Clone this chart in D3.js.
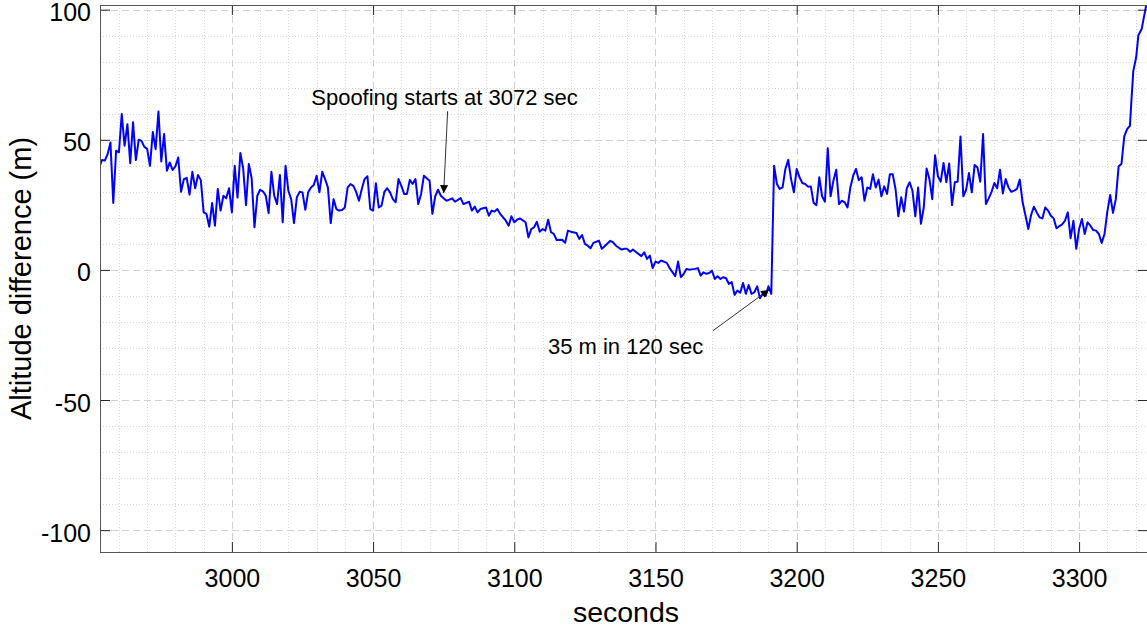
<!DOCTYPE html>
<html>
<head>
<meta charset="utf-8">
<script src="https://cdn.jsdelivr.net/npm/d3@7"></script>
<style>
  body { margin: 0; background: #fff; }
  svg text { font-family: "Liberation Sans", Arial, Helvetica, sans-serif; fill: #000; }
</style>
</head>
<body>
<div class="altitude-chart"></div>
<script>
// time stamps (s) and altitude difference (m)
const seconds = [2953,2954,2955,2956,2957,2958,2959,2960,2961,2962,2963,2964,2965,2966,2967,2968,2969,2970,2971,2972,2973,2974,2975,2976,2977,2978,2979,2980,2981,2982,2983,2984,2985,2986,2987,2988,2989,2990,2991,2992,2993,2994,2995,2996,2997,2998,2999,
  3000,3001,3002,3003,3004,3005,3006,3007,3008,3009,3010,3011,3012,3013,3014,3015,3016,3017,3018,3019,3020,3021,3022,3023,3024,3025,3026,3027,3028,3029,3030,3031,3032,3033,3034,3035,3036,3037,3038,3039,3040,3041,3042,3043,3044,3045,3046,3047,3048,3049,
  3050,3051,3052,3053,3054,3055,3056,3057,3058,3059,3060,3061,3062,3063,3064,3065,3066,3067,3068,3069,3070,3071,3072,3073,3074,3075,3076,3077,3078,3079,3081,3082,3084,3085,3086,3087,3088,3090,3091,3092,3093,3094,3095,3097,3098,3099,
  3100,3101,3102,3104,3105,3106,3107,3108,3109,3110,3111,3112,3113,3114,3115,3117,3118,3119,3120,3122,3123,3124,3125,3126,3127,3128,3130,3131,3132,3134,3135,3136,3138,3139,3140,3141,3142,3143,3145,3146,3147,3148,3149,
  3150,3151,3152,3154,3155,3157,3158,3159,3160,3161,3162,3164,3165,3166,3167,3168,3169,3170,3171,3172,3173,3174,3175,3176,3177,3178,3179,3180,3181,3182,3183,3184,3185,3186,3187,3188,3189,3190,3191,3192,3193,3194,3195,3196,3197,3198,3199,
  3200,3201,3202,3203,3204,3205,3206,3207,3208,3209,3210,3211,3212,3213,3214,3215,3216,3217,3218,3219,3220,3221,3222,3223,3224,3225,3226,3227,3228,3229,3230,3231,3232,3233,3234,3235,3236,3237,3238,3239,3240,3241,3242,3243,3244,3245,3246,3247,3248,3249,
  3250,3251,3252,3253,3254,3255,3256,3257,3258,3259,3260,3261,3262,3263,3264,3265,3266,3267,3268,3269,3270,3271,3272,3273,3274,3275,3276,3277,3278,3279,3280,3281,3282,3283,3284,3285,3286,3287,3288,3289,3290,3291,3292,3293,3294,3295,3296,3297,3298,3299,
  3300,3301,3302,3303,3304,3305,3306,3307,3308,3309,3310,3311,3312,3313,3314,3315,3316,3317,3318,3318.6,3319.2,3320.2,3321,3322.2,3322.8,3323.6,3324.5];

const altDiff = [39.4,42.2,42,44.5,49,25.7,45.8,45.2,59.9,47.7,56,41,56.7,42.2,50,49.6,47.3,46.5,40,53,46.4,60.9,41.7,52.2,38.1,41.3,38.4,39.8,43.2,30,34.9,35.4,28.9,37.7,31.4,36.5,34.5,22.1,21.5,16.6,25.7,17,31.1,22.8,28.5,27.5,31.4,
  22.1,40,27.8,44.9,39,24.9,40.7,35.2,16.4,28.5,30.8,30.2,28.5,21.8,37.7,28.5,25.3,36.5,18.3,40,30.4,27.2,18,27.9,30,29.8,23.1,29.8,31.7,32.6,36.2,29.8,37.7,34.9,31.7,18,27.2,23.4,22.8,23,24,31.7,33,32.3,30,26.6,31.1,34.9,36,23.4,
  22.8,33.3,24,24.7,30,31.4,29.8,27.2,26,34.9,32.3,29.2,29.2,34.6,33,34.9,25.3,29.2,36.2,35.2,34.3,21.5,28.3,30.8,28.5,27.5,26.6,27,27.5,26.2,27.6,25.3,26.2,22.8,24.3,22.1,23.4,24,20.8,22.8,22.4,23.4,21.5,18.9,17,20.6,
  18.3,19.3,19.8,18.3,12.5,15.7,16.4,18.5,14.7,15.7,15.1,19.3,14.5,13.8,11.5,11.6,10.4,15.1,14.7,14.2,11.9,13.4,10,9.3,8.3,10.4,11.2,8.1,9.1,11.2,10.6,9.3,7.8,8.1,8.1,7,7.8,7,5.3,6.8,4.2,5.5,0.7,
  3.2,2.7,3.6,2.7,0.7,-2.4,3.2,-2.8,-1.5,0.4,0.1,0.4,0.7,-2.2,-0.9,-1.5,-1.2,-0.3,-3.5,-2.4,-3.5,-2.8,-3.2,-5.4,-4.7,-9.6,-7.9,-8.8,-5,-9.2,-5.8,-9.2,-8.6,-6.3,-10.9,-9.2,-9.9,-6.3,-9.2,40,33,31.1,31.7,38.8,42.3,35,29.8,
  38.8,35.6,33.4,33,32,32.1,25.7,24.9,35.6,28.3,26.2,46.8,28.3,34.3,38.5,25.3,26.6,26,24,31.7,36.2,38.8,34.5,35.6,26.6,31.7,31.1,36.8,31.7,34.7,28.3,32.1,29.2,36.8,36.8,31.1,20.6,27.9,22.4,31.4,33.7,30.4,20.6,31.7,17.7,24,39,34.9,27.2,44.1,
  36,33.9,41.1,33.7,40.9,24.9,33.7,33.9,51.3,28.3,30.8,37.2,29.8,40.3,39.4,33.9,52.2,25.3,27.5,30,33.4,31.4,38.5,29.4,34.9,31.7,30,30.5,31.1,34.7,26,21,15.7,21.1,24.3,22.1,20.2,19.8,24,22.8,20.8,19.8,16,16.8,17.5,18.9,22.1,12.2,18.9,8.1,
  15.7,19.6,13.8,18.3,17,15.3,15.1,13.8,10.4,13.8,22.4,28.8,21.9,27.2,39.8,40.7,51.3,54.1,55.4,66.3,76.5,81.6,90.2,92.7,96.3,100.8,104];

const xTicks = [3000,3050,3100,3150,3200,3250,3300];
const yTicks = [-100,-50,0,50,100];
const xDomain = [2953.3, 3324.4];
const yDomain = [-108.4, 101.8];

// annotations: text anchor and arrow (tail -> tip) in data units
const noteText = ["Spoofing starts at 3072 sec", "35 m in 120 sec"];
const noteTextPos = [[3028.1, 63.4], [3111.9, -32.2]];
const noteArrowFrom = [[3076.4, 61], [3170.3, -23.4]];
const noteArrowTo = [[3075, 29.5], [3190.2, -7.6]];

const margin = {left:100, right:0, top:5, bottom:80};
const outerWidth = 1147;
const outerHeight = 632;
const width = 1048;
const height = 547;

const svg = d3.select(".altitude-chart").append("svg")
  .attr("width", outerWidth)
  .attr("height", outerHeight);

const defs = svg.append("defs");
defs.append("clipPath").attr("id", "plot-clip")
  .append("rect").attr("width", width).attr("height", height);
defs.append("marker")
  .attr("id", "arrowhead")
  .attr("viewBox", "0 0 10 10")
  .attr("refX", 10).attr("refY", 5)
  .attr("markerWidth", 11).attr("markerHeight", 8)
  .attr("markerUnits", "userSpaceOnUse")
  .attr("orient", "auto")
  .append("path").attr("d", "M0,0 L10,5 L0,10 Z").attr("fill", "#000");

const g = svg.append("g")
  .attr("transform", `translate(${margin.left}, ${margin.top})`);

const xScale = d3.scaleLinear().domain(xDomain).range([0, width]);
const yScale = d3.scaleLinear().domain(yDomain).range([height, 0]);

// minor grid (dotted)
const xMinor = d3.range(2960, 3330, 10).filter(d => !xTicks.includes(d));
const yMinor = d3.range(-100, 101, 10).filter(d => !yTicks.includes(d));
const grid = g.append("g").attr("class", "grid");
grid.selectAll(".xminor").data(xMinor).enter().append("line")
  .attr("x1", d => Math.round(xScale(d)) + 0.5).attr("x2", d => Math.round(xScale(d)) + 0.5)
  .attr("y1", 0).attr("y2", height)
  .attr("stroke", "#d8d8d8").attr("stroke-dasharray", "1,2");
grid.selectAll(".yminor").data(yMinor).enter().append("line")
  .attr("y1", d => Math.round(yScale(d)) + 0.5).attr("y2", d => Math.round(yScale(d)) + 0.5)
  .attr("x1", 0).attr("x2", width)
  .attr("stroke", "#d8d8d8").attr("stroke-dasharray", "1,2");
// major grid (dashed)
grid.selectAll(".xmajor").data(xTicks).enter().append("line")
  .attr("x1", d => Math.round(xScale(d)) + 0.5).attr("x2", d => Math.round(xScale(d)) + 0.5)
  .attr("y1", 0).attr("y2", height)
  .attr("stroke", "#d0d0d0").attr("stroke-dasharray", "7,4");
grid.selectAll(".ymajor").data(yTicks).enter().append("line")
  .attr("y1", d => Math.round(yScale(d)) + 0.5).attr("y2", d => Math.round(yScale(d)) + 0.5)
  .attr("x1", 0).attr("x2", width)
  .attr("stroke", "#d0d0d0").attr("stroke-dasharray", "7,4");

// data line
const points = seconds.map((s, i) => [s, altDiff[i]]);
const line = d3.line().x(d => xScale(d[0])).y(d => yScale(d[1]));
g.append("path")
  .datum(points)
  .attr("clip-path", "url(#plot-clip)")
  .attr("fill", "none")
  .attr("stroke", "#0000ff")
  .attr("stroke-width", 2)
  .attr("stroke-linejoin", "round")
  .attr("d", line);

// axes, ticks pointing inward; plain hyphen for negatives
const fmt = d => String(d);
const xAxis = d3.axisBottom(xScale).tickValues(xTicks).tickSize(-10).tickSizeOuter(0).tickPadding(17).tickFormat(fmt);
const yAxis = d3.axisLeft(yScale).tickValues(yTicks).tickSize(-10).tickSizeOuter(0).tickPadding(9).tickFormat(fmt);

const gx = g.append("g").attr("class", "x-axis")
  .attr("transform", `translate(0, ${height})`).call(xAxis);
const gy = g.append("g").attr("class", "y-axis").call(yAxis);
g.append("g").attr("transform", "translate(0,0)")
  .call(d3.axisTop(xScale).tickValues(xTicks).tickSize(-10).tickSizeOuter(0).tickFormat(""));
g.append("g").attr("transform", `translate(${width},0)`)
  .call(d3.axisRight(yScale).tickValues(yTicks).tickSize(-10).tickSizeOuter(0).tickFormat(""));

g.selectAll(".domain").remove();
g.selectAll(".tick line").attr("stroke", "#262626");
gx.selectAll("text").style("font-size", "25px").attr("fill", "#000");
gy.selectAll("text").style("font-size", "25px").attr("dy", "0.44em").attr("fill", "#000");

g.append("rect")
  .attr("x", 0.5).attr("y", 0.5)
  .attr("width", width).attr("height", height)
  .attr("fill", "none")
  .attr("stroke", "#555");

// axis labels
svg.append("text")
  .attr("x", margin.left + width / 2 + 2)
  .attr("y", 622)
  .attr("text-anchor", "middle")
  .style("font-size", "28.5px")
  .text("seconds");

svg.append("text")
  .attr("transform", `translate(31, ${margin.top + height / 2}) rotate(-90)`)
  .attr("text-anchor", "middle")
  .style("font-size", "29px")
  .text("Altitude difference (m)");

// annotations
noteText.forEach((t, i) => {
  g.append("line")
    .attr("x1", xScale(noteArrowFrom[i][0])).attr("y1", yScale(noteArrowFrom[i][1]))
    .attr("x2", xScale(noteArrowTo[i][0])).attr("y2", yScale(noteArrowTo[i][1]))
    .attr("stroke", "#333").attr("stroke-width", 1)
    .attr("marker-end", "url(#arrowhead)");
  g.append("text")
    .attr("x", xScale(noteTextPos[i][0])).attr("y", yScale(noteTextPos[i][1]))
    .style("font-size", "22px")
    .text(t);
});
</script>
</body>
</html>
